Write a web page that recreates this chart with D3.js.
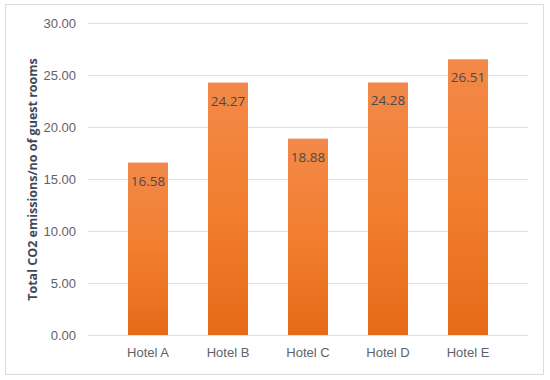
<!DOCTYPE html>
<html>
<head>
<meta charset="utf-8">
<script src="https://cdn.jsdelivr.net/npm/d3@7"></script>
<style>
  body { margin: 0; background: #fff; }
  svg { display: block; font-family: "Open Sans", sans-serif; }
</style>
</head>
<body>
<svg width="550" height="380"></svg>
<script>
const svg = d3.select("svg");

// data
const hotels = ["Hotel A", "Hotel B", "Hotel C", "Hotel D", "Hotel E"];
const emissions = [16.58, 24.27, 18.88, 24.28, 26.51];
const yTicks = [0, 5, 10, 15, 20, 25, 30];
const yTitle = "Total CO2 emissions/no of guest rooms";

const plotLeft = 88, plotRight = 528, plotTop = 23, plotBottom = 335;

// outer frame
svg.append("rect")
    .attr("x", 5.5).attr("y", 4.5)
    .attr("width", 538).attr("height", 370)
    .attr("fill", "#fff")
    .attr("stroke", "#dcdcdc");

const x = d3.scaleBand().domain(hotels).range([plotLeft, plotRight]).padding(0.5);
const y = d3.scaleLinear().domain([0, 30]).range([plotBottom, plotTop]);

// bar gradient, lighter at top
const grad = svg.append("defs").append("linearGradient")
    .attr("id", "barGrad")
    .attr("x1", 0).attr("y1", 0).attr("x2", 0).attr("y2", 1);
grad.append("stop").attr("offset", "0%").attr("stop-color", "#f2894a");
grad.append("stop").attr("offset", "50%").attr("stop-color", "#f27e2e");
grad.append("stop").attr("offset", "100%").attr("stop-color", "#e56a19");

// gridlines + y labels
const yAxis = svg.append("g")
    .attr("transform", `translate(${plotLeft},0)`)
    .call(d3.axisLeft(y).tickValues(yTicks).tickFormat(d3.format(".2f"))
        .tickSize(-(plotRight - plotLeft)).tickPadding(12));
yAxis.select(".domain").remove();
yAxis.selectAll(".tick line").attr("stroke", "#dfe1e6").attr("stroke-width", 1.2);
yAxis.selectAll(".tick text")
    .attr("fill", "#5f6368")
    .style("font-size", "13px");

// bars
svg.append("g")
    .selectAll("rect")
    .data(emissions)
    .enter().append("rect")
    .attr("x", (d, i) => x(hotels[i]))
    .attr("y", d => y(d))
    .attr("width", x.bandwidth())
    .attr("height", d => y(0) - y(d))
    .attr("fill", "url(#barGrad)");

// value labels inside bar tops
svg.append("g")
    .selectAll("text")
    .data(emissions)
    .enter().append("text")
    .attr("x", (d, i) => x(hotels[i]) + x.bandwidth() / 2)
    .attr("y", d => y(d) + 23)
    .attr("text-anchor", "middle")
    .attr("fill", "#4a4a4a")
    .style("font-size", "13.5px")
    .text(d => d.toFixed(2));

// x labels
const xAxis = svg.append("g")
    .attr("transform", `translate(0,${plotBottom})`)
    .call(d3.axisBottom(x).tickSize(0).tickPadding(13));
xAxis.select(".domain").remove();
xAxis.selectAll(".tick text")
    .attr("fill", "#5f6368")
    .style("font-size", "13px");

// y title
svg.append("text")
    .attr("transform", `translate(37,${(56 + 303) / 2}) rotate(-90)`)
    .attr("text-anchor", "middle")
    .attr("fill", "#3e4a5a")
    .style("font-size", "12.5px")
    .style("font-weight", "bold")
    .text(yTitle);
</script>
</body>
</html>
